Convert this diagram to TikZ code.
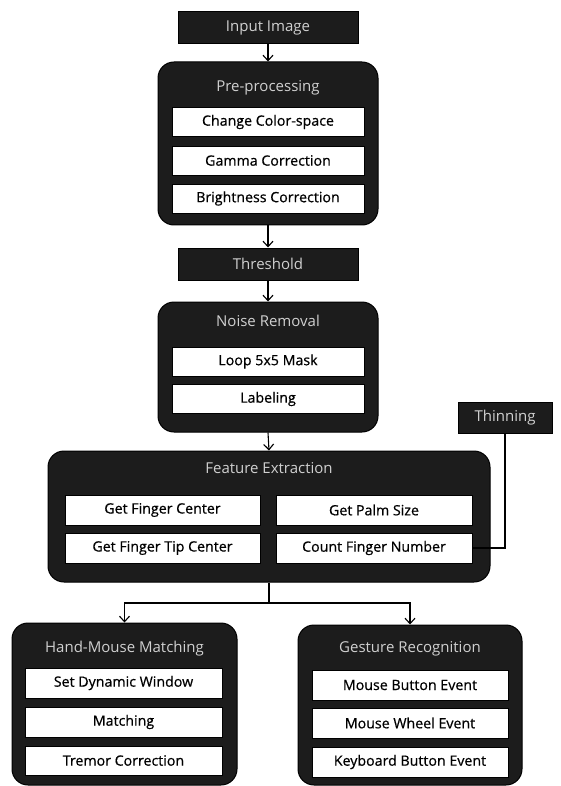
\documentclass[tikz,border=0pt]{standalone}
\usepackage{fontspec}
\setmainfont{Open Sans}
\newfontfamily\itemfont{Open Sans}[FakeBold=0.6]
\usetikzlibrary{arrows.meta}
\definecolor{boxdark}{HTML}{1C1C1C}
\definecolor{titlegray}{HTML}{D0D0D0}
\tikzset{
  darkbox/.style={rectangle, fill=boxdark, draw=black, line width=1pt, text=titlegray, inner sep=0pt, font=\fontsize{15}{17}\selectfont},
  groupbox/.style={rectangle, rounded corners=16pt, fill=boxdark, draw=black, line width=1pt, inner sep=0pt},
  grouptitle/.style={text=titlegray, inner sep=0pt, font=\fontsize{15}{17}\selectfont},
  itembox/.style={rectangle, fill=white, draw=black, line width=0.6pt, text=black, inner sep=0pt, font=\itemfont\fontsize{14.2}{16}\selectfont},
  conn/.style={draw=black, line width=1.1pt},
  arr/.style={conn, -{Straight Barb[length=5.5pt,width=10pt,line width=1.1pt]}}
}
\begin{document}
\begin{tikzpicture}[x=1pt,y=-1pt]
\useasboundingbox[fill=white] (0,0) rectangle (560,786);
% main column
\node[darkbox, minimum width=180pt, minimum height=32pt] (input) at (268,28) {Input Image};
\node[groupbox, minimum width=220pt, minimum height=163pt] (pre) at (268,143.5) {};
\node[grouptitle] (pret) at (268,88) {Pre-processing};
\node[itembox, minimum width=192pt, minimum height=29pt] (pre1) at (268,122) {Change Color-space};
\node[itembox, minimum width=192pt, minimum height=29pt] (pre2) at (268,160.5) {Gamma Correction};
\node[itembox, minimum width=192pt, minimum height=29pt] (pre3) at (268,198.5) {Brightness Correction};
\node[darkbox, minimum width=180pt, minimum height=32pt] (thresh) at (268,264) {Threshold};
\node[groupbox, minimum width=220pt, minimum height=130pt] (noise) at (268,367) {};
\node[grouptitle] (noiset) at (268,321) {Noise Removal};
\node[itembox, minimum width=192pt, minimum height=29pt] (loop) at (268,361.5) {Loop 5x5 Mask};
\node[itembox, minimum width=192pt, minimum height=29pt] (label) at (268,399) {Labeling};
% feature extraction
\node[groupbox, minimum width=442pt, minimum height=131pt] (feat) at (269,516.5) {};
\node[grouptitle] (featt) at (269,468) {Feature Extraction};
\node[itembox, minimum width=195pt, minimum height=30pt] (fc) at (162.5,510) {Get Finger Center};
\node[itembox, minimum width=196pt, minimum height=30pt] (ps) at (374,510) {Get Palm Size};
\node[itembox, minimum width=195pt, minimum height=30pt] (ftc) at (162.5,548) {Get Finger Tip Center};
\node[itembox, minimum width=196pt, minimum height=30pt] (count) at (374,548) {Count Finger Number};
\node[darkbox, minimum width=94pt, minimum height=31pt] (thin) at (505,417.5) {Thinning};
% bottom groups
\node[groupbox, minimum width=225pt, minimum height=162pt] (hand) at (124.5,704) {};
\node[grouptitle] (handt) at (124.5,649) {Hand-Mouse Matching};
\node[itembox, minimum width=197pt, minimum height=30pt] (h1) at (123.5,683) {Set Dynamic Window};
\node[itembox, minimum width=197pt, minimum height=30pt] (h2) at (123.5,722) {Matching};
\node[itembox, minimum width=197pt, minimum height=29pt] (h3) at (123.5,760.5) {Tremor Correction};
\node[groupbox, minimum width=224pt, minimum height=160pt] (gest) at (410,705) {};
\node[grouptitle] (gestt) at (410,649) {Gesture Recognition};
\node[itembox, minimum width=196pt, minimum height=30pt] (g1) at (410,685) {Mouse Button Event};
\node[itembox, minimum width=196pt, minimum height=30pt] (g2) at (410,723) {Mouse Wheel Event};
\node[itembox, minimum width=196pt, minimum height=30pt] (g3) at (410,762) {Keyboard Button Event};
% connectors
\draw[arr] (input.south) -- (pre.north);
\draw[arr] (pre.south) -- (thresh.north);
\draw[arr] (thresh.south) -- (noise.north);
\draw[arr] (noise.south) -- (feat.north);
\coordinate (split) at (269,603);
\draw[conn] (feat.south) -- (split);
\draw[arr] (split) -| (hand.north);
\draw[arr] (split) -| (gest.north);
\draw[conn] (thin.south) |- (count.east);
\end{tikzpicture}
\end{document}
